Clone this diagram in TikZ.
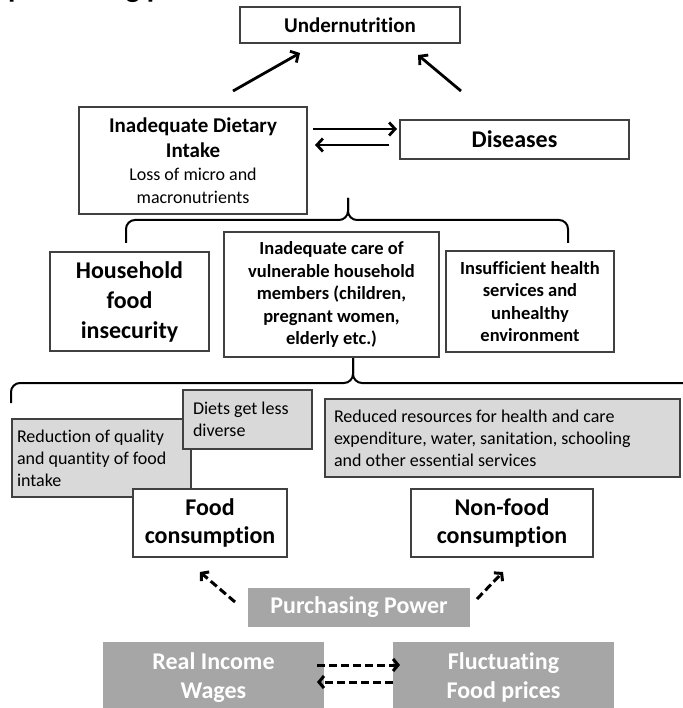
\documentclass[tikz,border=0pt]{standalone}
\usepackage{fontspec}
\setmainfont{Carlito}[Ligatures=NoCommon]
\usetikzlibrary{arrows.meta}
\definecolor{edge}{HTML}{404040}
\definecolor{pale}{HTML}{D9D9D9}
\definecolor{mid}{HTML}{A6A6A6}
\begin{document}
\begin{tikzpicture}[x=1pt,y=-1pt]
\tikzset{
  box/.style={draw=edge, line width=1.2pt, fill=white, inner sep=0pt, align=flush center},
  note/.style={draw=edge, line width=1.2pt, fill=pale, inner xsep=5pt, inner ysep=0pt,
               align=flush left, font=\fontsize{18}{22}\selectfont},
  dark/.style={fill=mid, text=white, inner sep=0pt, align=flush center,
               font=\fontsize{24}{29}\selectfont\bfseries},
  arr/.style={line width=2.8pt, -{Straight Barb[length=6pt,width=13pt]}},
  darr/.style={line width=3pt, dash pattern=on 8pt off 4pt, -{Straight Barb[length=5pt,width=12pt]}},
  brace/.style={line width=2pt, rounded corners=9pt},
}
\useasboundingbox (0,0) rectangle (682,708);
\fill[white] (0,0) rectangle (682,708);

% heading line, only its lower edge falls inside the page
\begin{scope}
  \clip (0,0) rectangle (682,20);
  \node[anchor=base west, inner sep=0pt, font=\fontsize{30}{36}\selectfont\bfseries] (title) at (8,-2) {processing p};
\end{scope}

% outcome and immediate causes
\node[box, minimum width=220, minimum height=36, font=\fontsize{21}{25}\selectfont\bfseries] (under) at (350,25) {Undernutrition};
\node[box, minimum width=228, minimum height=107, text width=220] (diet) at (193,160.5)
  {{\bfseries\fontsize{21}{25}\selectfont Inadequate Dietary\\Intake\par}{\fontsize{18}{23}\selectfont Loss of micro and\\macronutrients\par}};
\node[box, minimum width=229, minimum height=39, font=\fontsize{24}{29}\selectfont\bfseries] (dis) at (514.5,139.5) {Diseases};

% underlying causes
\node[box, minimum width=159, minimum height=99, text width=155, font=\fontsize{24}{30}\selectfont\bfseries] (hfi) at (129.5,301.5) {Household\\food\\insecurity};
\node[box, minimum width=215, minimum height=125, text width=210, font=\fontsize{18.5}{22.5}\selectfont\bfseries] (care) at (331.5,294.5)
  {Inadequate care of\\vulnerable household\\members (children,\\pregnant women,\\elderly etc.)};
\node[box, minimum width=168, minimum height=101, text width=164, font=\fontsize{18.5}{22.5}\selectfont\bfseries] (hlth) at (530,301.5)
  {Insufficient health\\services and\\unhealthy\\environment};

% household responses
\node[note, minimum width=179, minimum height=78, text width=169] (qual) at (101.5,458) {Reduction of quality\\and quantity of food\\intake};
\node[note, minimum width=129, minimum height=59, text width=109, inner xsep=10pt] (div) at (247.5,419.5) {Diets get less\\diverse};
\node[note, minimum width=355, minimum height=78, text width=337, inner xsep=9pt] (res) at (502.5,438)
  {Reduced resources for health and care\\expenditure, water, sanitation, schooling\\and other essential services};

\node[box, minimum width=154, minimum height=68, text width=150, font=\fontsize{24}{28}\selectfont\bfseries] (food) at (210,523) {Food\\consumption};
\node[box, minimum width=182, minimum height=68, text width=178, font=\fontsize{24}{28}\selectfont\bfseries] (nonfood) at (502,523) {Non-food\\consumption};

% economic drivers
\node[dark, minimum width=222, minimum height=39] (pp) at (359,607.5) {Purchasing Power};
\node[dark, minimum width=221, minimum height=71, text width=215] (inc) at (213.5,677.5) {Real Income\\Wages};
\node[dark, minimum width=221, minimum height=71, text width=215] (price) at (503.5,677.5) {Fluctuating\\Food prices};

% braces grouping the causes
\draw[brace] (126,243) |- (348,220) -- (348,198);
\draw[brace] (348,198) -- (348,220) -| (568,243);
\draw[brace] (11,403) |- (353,383) -- (353,358);
\draw[brace] (353,358) -- (353,383) -- (690,383);

% arrow end points
\coordinate (dietOut) at (233,91);
\coordinate (underInL) at (300,53);
\coordinate (disOut) at (461,91);
\coordinate (underInR) at (418,55);
\coordinate (d2sA) at (313,129);
\coordinate (d2sB) at (397,129);
\coordinate (s2dA) at (389,145);
\coordinate (s2dB) at (315,145);
\coordinate (ppL) at (235,602);
\coordinate (foodIn) at (200,572);
\coordinate (ppR) at (477,599);
\coordinate (nonfoodIn) at (503,572);
\coordinate (i2pA) at (317,665);
\coordinate (i2pB) at (400,665);
\coordinate (p2iA) at (393,682);
\coordinate (p2iB) at (317,682);

\draw[arr] (dietOut) -- (underInL);
\draw[arr] (disOut) -- (underInR);
\draw[arr] (d2sA) -- (d2sB);
\draw[arr] (s2dA) -- (s2dB);
\draw[darr] (ppL) -- (foodIn);
\draw[darr] (ppR) -- (nonfoodIn);
\draw[darr] (i2pA) -- (i2pB);
\draw[darr] (p2iA) -- (p2iB);
\end{tikzpicture}
\end{document}
